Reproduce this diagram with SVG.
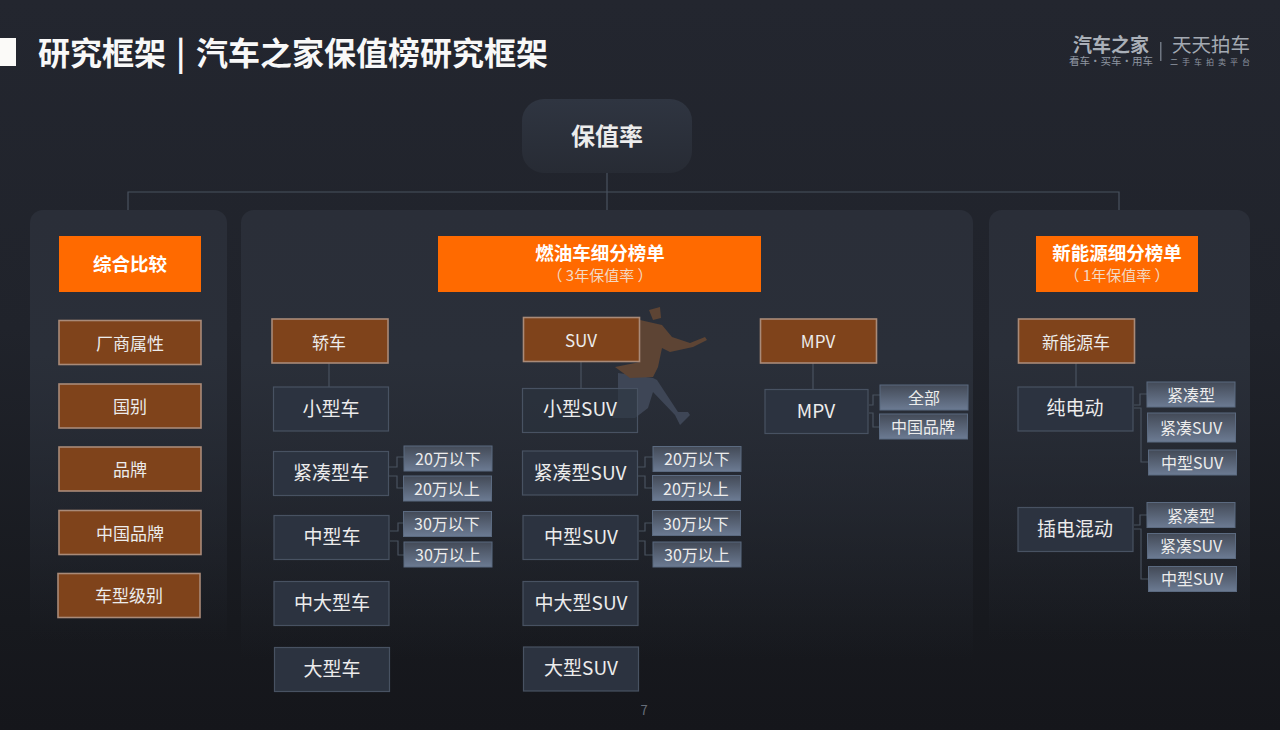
<svg xmlns="http://www.w3.org/2000/svg" width="1280" height="730" viewBox="0 0 1280 730">
<style>
text{font-family:"Noto Sans CJK SC","Noto Sans",sans-serif;text-anchor:middle;fill:#ececec}
.o{fill:#ff6a00;}
.ot{font-size:18.500px;font-weight:700;fill:#fff}
.os{font-size:15px;fill:#f3d9c4}
.b{fill:#7f431b;stroke:#a98a78;stroke-width:1.6}
.bt{font-size:17px}
.c{fill:#2c3340;stroke:#485262;stroke-width:1.2}
.ct{font-size:19px}
.s{fill:url(#sg);stroke:#5b6a80;stroke-width:1}
.st{font-size:16px}
.l{fill:none;stroke:#49525f;stroke-width:1.2}
</style>
<defs>
<linearGradient id="bg" x1="0" y1="0" x2="0" y2="1"><stop offset="0" stop-color="#23262f"/><stop offset=".45" stop-color="#20232b"/><stop offset=".85" stop-color="#17191e"/><stop offset="1" stop-color="#15161b"/></linearGradient>
<linearGradient id="pg" x1="0" y1="0" x2="0" y2="1"><stop offset="0" stop-color="#2a2e38"/><stop offset=".3" stop-color="#2a2f39"/><stop offset=".9" stop-color="#2a2f39" stop-opacity="0"/></linearGradient>
<linearGradient id="sg" x1="0" y1="0" x2="0" y2="1"><stop offset="0" stop-color="#434a57"/><stop offset="1" stop-color="#6c7b93"/></linearGradient>
<linearGradient id="rg" x1="0" y1="0" x2="0" y2="1"><stop offset="0" stop-color="#2f3541"/><stop offset="1" stop-color="#272b34"/></linearGradient>
</defs>
<rect width="1280" height="730" fill="url(#bg)"/>

<rect x="0" y="38" width="16" height="28" fill="#fbfaf8"/>
<text y="65" style="font-size:32px;font-weight:700;fill:#f8f8f8;text-anchor:start"><tspan x="38">研究框架</tspan><tspan x="176">|</tspan><tspan x="196">汽车之家保值榜研究框架</tspan></text>

<g id="logo">
<text x="1111" y="52" style="font-size:19px;font-weight:700;fill:#aab0b8">汽车之家</text>
<text x="1111" y="65" style="font-size:10.500px;fill:#8f96a1">看车·买车·用车</text>
<rect x="1160" y="42" width="1.500" height="19" fill="#6f7682"/>
<text x="1211" y="52" style="font-size:19.500px;fill:#a3a9b2">天天拍车</text>
<text x="1212" y="65" style="font-size:8px;letter-spacing:4px;fill:#8f96a1">二手车拍卖平台</text>
</g>

<g id="panels">
<rect x="30" y="210" width="197" height="480" rx="13" fill="url(#pg)"/>
<rect x="241" y="210" width="732" height="500" rx="13" fill="url(#pg)"/>
<rect x="989" y="210" width="261" height="480" rx="13" fill="url(#pg)"/>
</g>

<g id="figure">
<path d="M649 310L660 307L661 318L653 320Z" fill="#5d4434"/>
<path d="M618 373L653 378L657 380L678 412L688 412L690 415L680 425L675 415L653 392L648 408L635 418L612 418L618 400Z" fill="#3e4656"/>
<path d="M640 320L662 325L672 337L690 343L705 337L707 340L693 347L670 352L662 348L658 367L653 377L630 378L615 367L640 362Z" fill="#5d4434"/>
</g>

<g id="connectors">
<path class="l" d="M607 173V210M128 210V192H1119V210"/>
<path class="l" d="M329 363V387M581 361V388M813 363V389M1076 363V387"/>
<path class="l" d="M389 467H397V457H404M389 476H397V488H404"/>
<path class="l" d="M390 531H398V523H404M390 541H398V555H404"/>
<path class="l" d="M638 467H645V457H653M638 476H645V488H653"/>
<path class="l" d="M639 531H645V523H652M639 541H645V555H653"/>
<path class="l" d="M869 405H873V395H880M869 413H873V427H880"/>
<path class="l" d="M1134 405H1140V394H1147M1134 408H1141V462H1148"/>
<path class="l" d="M1134 525H1140V515H1147M1134 529H1141V579H1148"/>
</g>

<g id="root"><rect x="522" y="99" width="170" height="74" rx="22" fill="url(#rg)"/><text x="607" y="145" style="font-size:24px;font-weight:700">保值率</text></g>

<g id="h1"><rect class="o" x="59" y="236" width="142" height="56"/><text class="ot" x="130" y="271">综合比较</text></g>
<g id="h2"><rect class="o" x="438" y="236" width="323" height="56"/><text class="ot" x="600" y="260">燃油车细分榜单</text><text class="os" x="600" y="281">（ 3年保值率 ）</text></g>
<g id="h3"><rect class="o" x="1036" y="236" width="162" height="56"/><text class="ot" x="1117" y="260">新能源细分榜单</text><text class="os" x="1117" y="281">（ 1年保值率 ）</text></g>

<g id="a1"><rect class="b" x="59" y="320.500" width="142" height="44"/><text class="bt" x="130" y="350">厂商属性</text></g>
<g id="a2"><rect class="b" x="59" y="384" width="142" height="44"/><text class="bt" x="130" y="413">国别</text></g>
<g id="a3"><rect class="b" x="59" y="447" width="142" height="44"/><text class="bt" x="130" y="476">品牌</text></g>
<g id="a4"><rect class="b" x="59" y="510.500" width="142" height="44"/><text class="bt" x="130" y="540">中国品牌</text></g>
<g id="a5"><rect class="b" x="58" y="573.500" width="142" height="44"/><text class="bt" x="129" y="602">车型级别</text></g>

<g id="b1"><rect class="b" x="272" y="319" width="116" height="44"/><text class="bt" x="329" y="349">轿车</text></g>
<g id="b2"><rect class="b" x="523.500" y="317.500" width="116" height="44"/><text class="bt" x="581" y="347">SUV</text></g>
<g id="b3"><rect class="b" x="760.500" y="319" width="116" height="44"/><text class="bt" x="818" y="348">MPV</text></g>
<g id="b4"><rect class="b" x="1018.500" y="319" width="116" height="44"/><text class="bt" x="1076" y="349">新能源车</text></g>

<g id="c1"><rect class="c" x="273.500" y="387" width="115" height="44"/><text class="ct" x="331" y="416">小型车</text></g>
<g id="c2"><rect class="c" x="273.500" y="451.500" width="115" height="44"/><text class="ct" x="331" y="480">紧凑型车</text></g>
<g id="c3"><rect class="c" x="274" y="515.500" width="115" height="44"/><text class="ct" x="332" y="544">中型车</text></g>
<g id="c4"><rect class="c" x="274" y="581.500" width="115" height="44"/><text class="ct" x="332" y="610">中大型车</text></g>
<g id="c5"><rect class="c" x="274.500" y="647.500" width="115" height="44"/><text class="ct" x="332" y="676">大型车</text></g>

<g id="d1"><rect class="c" x="522.500" y="388.500" width="115" height="44" fill-opacity=".6" style="fill-opacity:.6"/><text class="ct" x="580" y="416">小型SUV</text></g>
<g id="d2"><rect class="c" x="522.500" y="451" width="115" height="44"/><text class="ct" x="580" y="480">紧凑型SUV</text></g>
<g id="d3"><rect class="c" x="523" y="515.500" width="115" height="44"/><text class="ct" x="581" y="544">中型SUV</text></g>
<g id="d4"><rect class="c" x="523" y="581.500" width="115" height="44"/><text class="ct" x="581" y="610">中大型SUV</text></g>
<g id="d5"><rect class="c" x="523.500" y="647" width="115" height="44"/><text class="ct" x="581" y="675">大型SUV</text></g>

<g id="e1"><rect class="c" x="765" y="389.500" width="103" height="44"/><text class="ct" x="816" y="418">MPV</text></g>
<g id="f1"><rect class="c" x="1018" y="387" width="115" height="44"/><text class="ct" x="1075" y="415">纯电动</text></g>
<g id="f2"><rect class="c" x="1018" y="507.500" width="115" height="44"/><text class="ct" x="1075" y="536">插电混动</text></g>

<g id="s1"><rect class="s" x="404" y="446" width="88" height="25"/><text class="st" x="448" y="465">20万以下</text></g>
<g id="s2"><rect class="s" x="403.500" y="476" width="88" height="25"/><text class="st" x="447" y="495">20万以上</text></g>
<g id="s3"><rect class="s" x="403.500" y="511.500" width="88" height="25"/><text class="st" x="447" y="530">30万以下</text></g>
<g id="s4"><rect class="s" x="404" y="542" width="88" height="25"/><text class="st" x="448" y="561">30万以上</text></g>
<g id="s5"><rect class="s" x="653" y="446.500" width="88" height="25"/><text class="st" x="697" y="465">20万以下</text></g>
<g id="s6"><rect class="s" x="652.500" y="475.500" width="88" height="25"/><text class="st" x="696" y="495">20万以上</text></g>
<g id="s7"><rect class="s" x="652.500" y="510.500" width="88" height="25"/><text class="st" x="696" y="530">30万以下</text></g>
<g id="s8"><rect class="s" x="653" y="542" width="88" height="25"/><text class="st" x="697" y="561">30万以上</text></g>
<g id="s9"><rect class="s" x="880" y="385" width="88" height="25"/><text class="st" x="924" y="404">全部</text></g>
<g id="s10"><rect class="s" x="879.500" y="414" width="88" height="25"/><text class="st" x="923" y="433">中国品牌</text></g>
<g id="s11"><rect class="s" x="1147" y="382" width="88" height="25"/><text class="st" x="1191" y="401">紧凑型</text></g>
<g id="s12"><rect class="s" x="1147.500" y="413" width="88" height="29"/><text class="st" x="1191" y="434">紧凑SUV</text></g>
<g id="s13"><rect class="s" x="1148.500" y="450" width="88" height="25"/><text class="st" x="1192" y="469">中型SUV</text></g>
<g id="s14"><rect class="s" x="1147" y="502.500" width="88" height="25"/><text class="st" x="1191" y="522">紧凑型</text></g>
<g id="s15"><rect class="s" x="1147.500" y="533.500" width="88" height="25"/><text class="st" x="1191" y="552">紧凑SUV</text></g>
<g id="s16"><rect class="s" x="1148.500" y="566.500" width="88" height="25"/><text class="st" x="1192" y="585">中型SUV</text></g>

<text x="644" y="715" style="font-size:13px;fill:#666d79">7</text>
</svg>
